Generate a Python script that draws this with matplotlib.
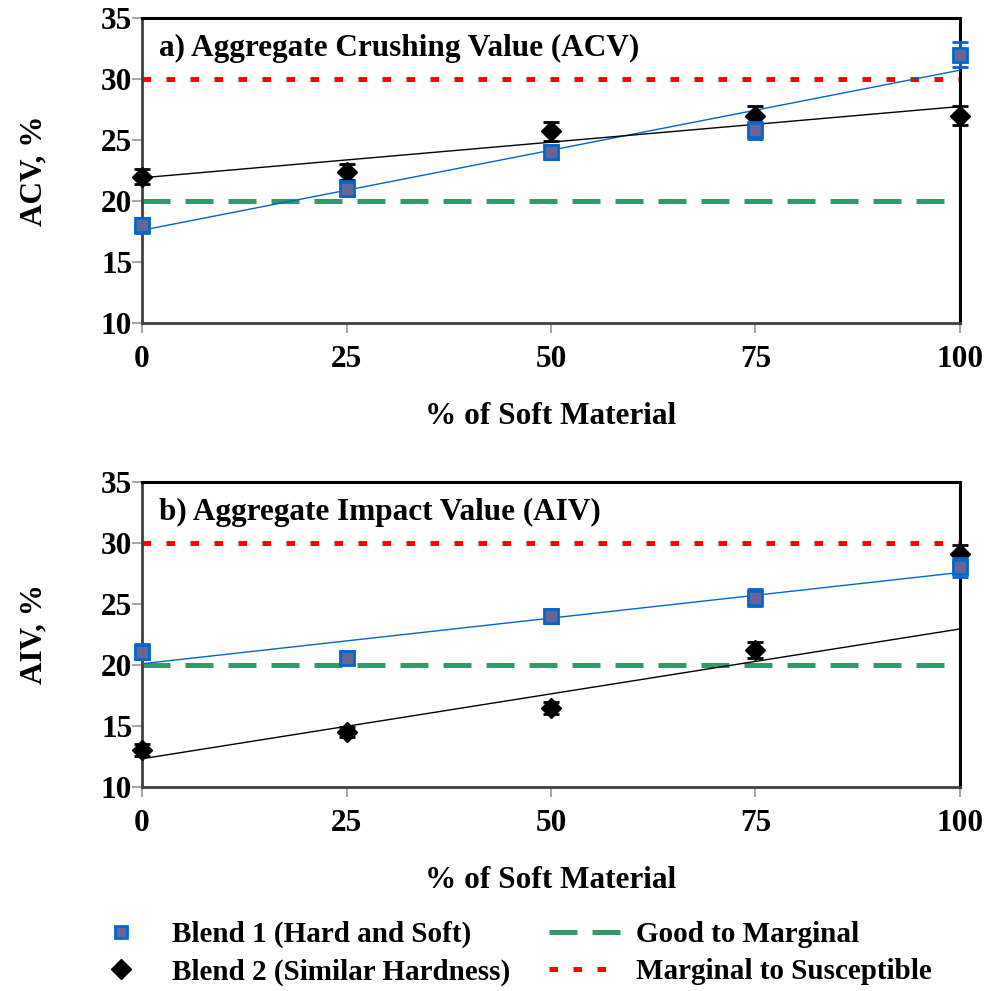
import numpy as np
import matplotlib
matplotlib.use("Agg")
import matplotlib.pyplot as plt
from matplotlib.lines import Line2D

plt.rcParams['font.family'] = ['Liberation Serif', 'DejaVu Serif']
plt.rcParams['font.weight'] = 'bold'

soft = [0, 25, 50, 75, 100]

acv_blend1 = [18.0, 21.0, 24.0, 25.8, 32.0]
acv_blend1_err = [0.6, 0.6, 0.6, 0.7, 1.0]
acv_blend2 = [22.0, 22.4, 25.7, 27.0, 27.0]
acv_blend2_err = [0.6, 0.65, 0.8, 0.8, 0.8]

aiv_blend1 = [21.1, 20.6, 24.0, 25.5, 28.0]
aiv_blend1_err = [0.6, 0.55, 0.6, 0.7, 0.8]
aiv_blend2 = [13.0, 14.5, 16.5, 21.2, 29.1]
aiv_blend2_err = [0.5, 0.4, 0.5, 0.65, 0.7]

good_to_marginal = 20
marginal_to_susceptible = 30

blue = '#0066CC'
purple = '#666699'
green = '#339966'
red = '#FF0000'
green_dash = (5.6, 3.0)
red_dash = (1.7, 3.1)
fs = 22.5

fig = plt.figure(figsize=(9.87, 9.91), dpi=100)
ax1 = fig.add_axes([0.1439, 0.6741, 0.8287, 0.3078])
ax2 = fig.add_axes([0.1439, 0.2059, 0.8287, 0.3078])


def trend(ax, x, y, color, npts=None):
    # excel-style linear trendline
    n = npts if npts else len(x)
    k, b = np.polyfit(x[:n], y[:n], 1)
    xs = np.array([0, 100])
    ax.plot(xs, k * xs + b, color=color, lw=1.0, zorder=3)


def panel(ax, b1, b1e, b2, b2e, title, ylabel, fit2=None):
    ax.plot([0, 100], [good_to_marginal] * 2, color=green, lw=3.6,
            dashes=green_dash, zorder=1)
    ax.plot([0, 100], [marginal_to_susceptible] * 2, color=red, lw=3.6,
            dashes=red_dash, zorder=1)
    trend(ax, soft, b1, blue)
    trend(ax, soft, b2, 'black', fit2)
    ax.errorbar(soft, b1, yerr=b1e, fmt='s', ms=9.5, mfc=purple, mec=blue,
                mew=2, ecolor=blue, elinewidth=2, capsize=6, capthick=2,
                zorder=5, clip_on=False)
    ax.errorbar(soft, b2, yerr=b2e, fmt='D', ms=10.5, mfc='black', mec='black',
                ecolor='black', elinewidth=2, capsize=6, capthick=2,
                zorder=4, clip_on=False)
    ax.set_xlim(0, 100)
    ax.set_ylim(10, 35)
    ax.set_xticks(soft)
    ax.set_yticks(range(10, 36, 5))
    ax.tick_params(direction='out', length=7, width=1.5, color='#A6A6A6',
                   labelsize=fs)
    ax.tick_params(axis='x', pad=9)
    ax.tick_params(axis='y', pad=0)
    for s in ['left', 'bottom']:
        ax.spines[s].set_color('#404040')
        ax.spines[s].set_linewidth(2)
    for s in ['top', 'right']:
        ax.spines[s].set_color('black')
        ax.spines[s].set_linewidth(2.2)
    ax.set_ylabel(ylabel, fontsize=fs, fontweight='bold', labelpad=38)
    ax.set_xlabel('% of Soft Material', fontsize=fs, fontweight='bold',
                  labelpad=20)
    ax.text(0.021, 0.90, title, transform=ax.transAxes, fontsize=fs,
            fontweight='bold', va='center', ha='left')


panel(ax1, acv_blend1, acv_blend1_err, acv_blend2, acv_blend2_err,
      'a) Aggregate Crushing Value (ACV)', 'ACV, %')
panel(ax2, aiv_blend1, aiv_blend1_err, aiv_blend2, aiv_blend2_err,
      'b) Aggregate Impact Value (AIV)', 'AIV, %', fit2=4)

handles = [
    Line2D([], [], ls='none', marker='s', ms=9, mfc=purple, mec=blue, mew=2),
    Line2D([], [], ls='none', marker='D', ms=10, color='black'),
    Line2D([], [], color=green, lw=3.6, dashes=green_dash),
    Line2D([], [], color=red, lw=3.6, dashes=red_dash),
]
labels = ['Blend 1 (Hard and Soft)', 'Blend 2 (Similar Hardness)',
          'Good to Marginal', 'Marginal to Susceptible']
fig.legend(handles, labels, ncol=2, loc='center',
           bbox_to_anchor=(0.515, 0.038), frameon=False,
           prop={'size': 21, 'weight': 'bold'}, handlelength=2.5,
           columnspacing=1.3, handletextpad=0.5, labelspacing=0.35,
           borderpad=0)

fig.savefig('out.png', dpi=100)
